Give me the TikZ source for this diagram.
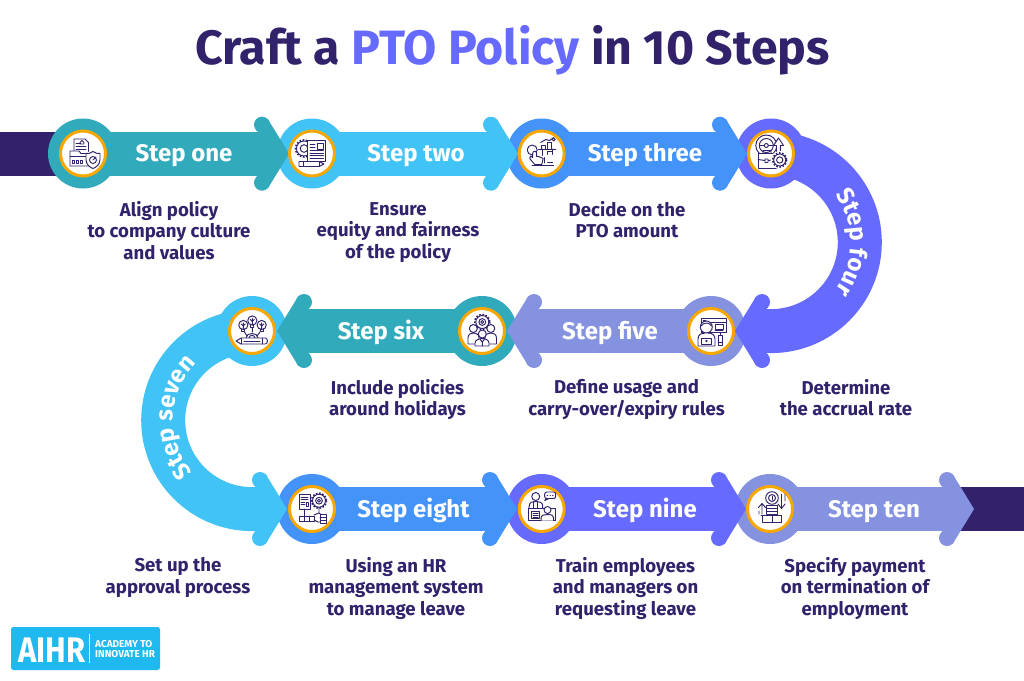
\documentclass[tikz,border=0pt]{standalone}
\usepackage{fontspec}
\setmainfont{Fira Sans}
\usetikzlibrary{decorations.text}
\definecolor{dark}{HTML}{32226B}
\definecolor{teal1}{HTML}{31AABB}
\definecolor{sky1}{HTML}{42C3F5}
\definecolor{blue1}{HTML}{4393F9}
\definecolor{purp1}{HTML}{676AFE}
\definecolor{peri1}{HTML}{8592DF}
\definecolor{ring1}{HTML}{F8A700}
\definecolor{logo1}{HTML}{1FB9F0}
\newcommand{\stepfont}{\fontsize{24}{28}\selectfont\bfseries}
\newcommand{\labfont}{\fontsize{18.6}{21.7}\selectfont\bfseries}
\newcommand{\fl}{\rule{0pt}{14pt}}
\tikzset{
  x=1pt,y=1pt,
  outercirc/.style={circle,minimum size=70pt,inner sep=0pt,fill=#1},
  ringcirc/.style={circle,minimum size=45pt,inner sep=0pt,fill=white,draw=ring1,line width=3pt},
  steplabel/.style={text=white,font=\stepfont,inner sep=0pt,anchor=base},
  desc/.style={text=dark,font=\labfont,align=center,anchor=north,inner sep=0pt},
  ic/.style={draw=dark,line width=0.95pt,line join=round,line cap=round},
  iconscope/.style={shift={(#1)},yscale=-1},
  curved/.style={decorate,decoration={text along path,text align=center,text={#1}}}
}
% head: tip at (#2), rotated #3, colour #1
\newcommand{\headshape}[3]{%
  \fill[#1,shift={(#2)},rotate=#3]
    (0,0) -- (-21.1,34.5) -- (-32.9,23.5) -- (-31,22) -- (-31,-22) -- (-32.9,-23.5) -- (-21.1,-34.5) -- cycle;
  \fill[#1,shift={(#2)},rotate=#3] (-27,29) circle (8) (-27,-29) circle (8);}
\newcommand{\gearic}[3]{%
  \draw[draw=dark,line width=1.6pt,dash pattern=on 1.6pt off 1.6pt] (#1,#2) circle (#3);
  \draw[ic] (#1,#2) circle ({#3-1}) (#1,#2) circle ({#3*0.45});}
\begin{document}
\begin{tikzpicture}
\useasboundingbox (0,0) rectangle (1024,-680);
\fill[white] (0,0) rectangle (1024,-680);
% title
\node[name=title,anchor=base,inner sep=0pt,text=dark,font=\fontsize{48.2}{54}\selectfont\bfseries] at (512.5,-64.5) {Craft a \textcolor{purp1}{PTO Policy} in 10 Steps};
% tail bars
\fill[dark] (0,-132) rectangle (70,-175.5);
\fill[dark] (950,-487) rectangle (1024,-531);
% tips
\coordinate (t1) at (289,-153.7);
\coordinate (t2) at (518,-153.7);
\coordinate (t3) at (747,-153.7);
\coordinate (t4) at (735,-331);
\coordinate (t5) at (507,-331);
\coordinate (t6) at (277,-331);
\coordinate (t7) at (287,-509);
\coordinate (t8) at (517,-509);
\coordinate (t9) at (746,-509);
\coordinate (t10) at (974,-509);
% step 10
\node[outercirc=peri1] (o10) at (770,-509) {};
\fill[peri1] (770,-487) rectangle (945,-531);
\headshape{peri1}{t10}{0}
% step 9
\node[outercirc=purp1] (o9) at (541.7,-509) {};
\fill[purp1] (541.7,-487) rectangle (716,-531);
\headshape{purp1}{t9}{0}
% step 8
\node[outercirc=blue1] (o8) at (312,-509) {};
\fill[blue1] (312,-487) rectangle (487,-531);
\headshape{blue1}{t8}{0}
% step 7
\node[outercirc=sky1] (o7) at (252,-331) {};
\draw[sky1,line width=44pt] (252,-331.5) arc[start angle=90,end angle=270,radius=88.8] -- (262,-509.1);
\headshape{sky1}{t7}{0}
% step 6
\node[outercirc=teal1] (o6) at (482,-331) {};
\fill[teal1] (482,-309) rectangle (307,-353);
\headshape{teal1}{t6}{180}
% step 5
\node[outercirc=peri1] (o5) at (711,-331) {};
\fill[peri1] (711,-309) rectangle (536,-353);
\headshape{peri1}{t5}{180}
% step 4
\node[outercirc=purp1] (o4) at (771,-153.5) {};
\draw[purp1,line width=44pt] (771,-153.5) arc[start angle=90,end angle=-90,radius=88.8] -- (760,-331.1);
\headshape{purp1}{t4}{180}
% step 3
\node[outercirc=blue1] (o3) at (541.7,-153.5) {};
\fill[blue1] (541.7,-131.7) rectangle (717,-175.7);
\headshape{blue1}{t3}{0}
% step 2
\node[outercirc=sky1] (o2) at (312,-153.5) {};
\fill[sky1] (312,-131.7) rectangle (488,-175.7);
\headshape{sky1}{t2}{0}
% step 1
\node[outercirc=teal1] (o1) at (83,-153.5) {};
\fill[teal1] (83,-131.7) rectangle (259,-175.7);
\headshape{teal1}{t1}{0}
% rings
\foreach \n in {1,...,10} {\node[ringcirc] (r\n) at (o\n) {};}
% step labels
\node[steplabel] (l1) at (184,-161.7) {Step one};
\node[steplabel] (l2) at (416,-161.7) {Step two};
\node[steplabel] (l3) at (645,-161.7) {Step three};
\node[steplabel] (l5) at (610,-339) {Step five};
\node[steplabel] (l6) at (381,-339) {Step six};
\node[steplabel] (l8) at (413.5,-517) {Step eight};
\node[steplabel] (l9) at (645,-517) {Step nine};
\node[steplabel] (l10) at (874,-517) {Step ten};
\path[curved={|\stepfont\color{white}|Step four}] (771,-162.3) arc[start angle=90,end angle=-90,radius=80];
\path[curved={|\stepfont\color{white}|Step seven}] (249.2,-499) arc[start angle=268,end angle=88,radius=79];
% descriptions
\node[desc] (d1) at (169,-201) {\fl Align policy\\to company culture\\and values};
\node[desc] (d2) at (398,-201) {\fl Ensure\\equity and fairness\\of the policy};
\node[desc] (d3) at (627,-201) {\fl Decide on the\\PTO amount};
\node[desc] (d4) at (846,-379) {\fl Determine\\the accrual rate};
\node[desc] (d5) at (626.5,-379) {\fl Define usage and\\carry-over/expiry rules};
\node[desc] (d6) at (397.5,-379) {\fl Include policies\\around holidays};
\node[desc] (d7) at (178,-557) {\fl Set up the\\approval process};
\node[desc] (d8) at (396,-557) {\fl Using an HR\\management system\\to manage leave};
\node[desc] (d9) at (625.5,-557) {\fl Train employees\\and managers on\\requesting leave};
\node[desc] (d10) at (855,-557) {\fl Specify payment\\on termination of\\employment};
% icon 1
\begin{scope}[iconscope=r1]
\draw[ic] (-9,-2) -- (-9,-14.5) -- (2,-14.5) -- (5.5,-11) -- (5.5,-2);
\draw[ic] (-7,-10) -- (-2,-10) (-7,-7) -- (3,-7) (-7,-4.5) -- (3,-4.5);
\draw[ic] (-1,-13) -- (1,-11) -- (1,-9.5) -- (-3,-9.5) -- (-3,-11) -- cycle;
\draw[ic,fill=white] (-13,-2.5) -- (-4,-2.5) -- (-2,0) -- (8,0) -- (8,12.5) -- (-13,12.5) -- cycle;
\draw[ic] (-13,3) -- (8,3);
\draw[ic] (-10.5,7) rectangle (-8.5,9.5) (-6.5,7) rectangle (-4.5,9.5) (-2.5,7) rectangle (-0.5,9.5);
\draw[ic,fill=white] (10,-2) .. controls (12,0) and (15,0) .. (17,0) -- (17,6) .. controls (17,11) and (13,14) .. (10,15) .. controls (7,14) and (3,11) .. (3,6) -- (3,0) .. controls (5,0) and (8,0) .. (10,-2);
\draw[ic] (10,6.5) circle (3.5) (10,6.5) -- (13,3.5);
\end{scope}
% icon 2
\begin{scope}[iconscope=r2]
\gearic{-8}{-5}{8.5}
\draw[ic,fill=white] (-4.7,-12.8) rectangle (13.7,7.5);
\draw[ic] (5.5,-10.5) rectangle (11.5,-4.5);
\draw[ic] (-2,-9) -- (3,-9) (-2,-6.5) -- (3,-6.5) (-2,-3) -- (11.5,-3) (-2,-0.5) -- (11.5,-0.5) (-2,2) -- (11.5,2) (-2,4.5) -- (11.5,4.5);
\draw[ic,fill=white] (-13,8) -- (7,8) -- (12,10.5) -- (7,13) -- (-13,13) -- cycle;
\draw[ic] (-9,8) -- (-9,13) (7,8) -- (7,13);
\end{scope}
% icon 3
\begin{scope}[iconscope=r3]
\draw[ic] (-3,-4.5) -- (14,-4.5) (0,-4.5) -- (0,-8.5) -- (4,-8.5) -- (4,-4.5) (6,-4.5) -- (6,-11) -- (10,-11) -- (10,-4.5);
\draw[ic] (-1,-11) -- (4,-14) -- (8,-13) -- (12,-16) (12,-14) circle (1.5);
\draw[ic] (1,-4.5) -- (1,2) (11,-4.5) -- (11,1) (6,1) -- (6,-2) -- (11,-2);
\draw[ic] (-9.5,-3.5) circle (5);
\draw[ic,fill=white] (-9,0) -- (-9,4) -- (-11,2.5) -- (-12,5) -- (-7,11) -- (0,11) -- (1.5,5) -- (-3,3) -- (-5,3) -- (-5,0) .. controls (-5,-3) and (-9,-3) .. (-9,0);
\draw[ic] (-9.5,11.5) -- (12,11.5);
\draw[ic] (3,4) -- (3,9.5) (6,9) -- (11,9);
\end{scope}
% icon 4
\begin{scope}[iconscope=r4]
\draw[ic] (-4.7,-8) circle (10.5) (-4.7,-8) circle (7);
\draw[ic] (-4.7,-8) circle (2) (-11,-8) -- (-7,-8) (1.5,-8) -- (-2.5,-8);
\draw[ic,fill=white] (-13,0) rectangle (5.5,15);
\draw[ic] (-8,0) -- (-8,-3) -- (0,-3) -- (0,0) (-13,6) -- (-6,7) (-3,7) -- (5.5,6) (-6,5.5) rectangle (-3,9);
\draw[ic,fill=white] (9.3,1) -- (9.3,-8) -- (12.5,-8) -- (7.5,-15.5) -- (2.5,-8) -- (5.5,-8) -- (5.5,1) -- cycle;
\fill[white] (8.7,6.5) circle (9);
\gearic{8.7}{6.5}{7}
\end{scope}
% icon 5
\begin{scope}[iconscope=r5]
\draw[ic] (-10,-12.5) rectangle (15,1.5) (-10,-9) -- (15,-9);
\draw[ic] (-8,-11) -- (-5,-11);
\draw[ic] (4,-6.5) rectangle (12,-2) (4,-0.5) -- (12,-0.5);
\draw[ic,fill=white] (-4.7,-4) circle (6);
\draw[ic] (-10,-5) .. controls (-7,-9) and (-2,-9) .. (0.5,-5);
\draw[ic,fill=white] (-13,15) -- (-13,8) .. controls (-13,3) and (-9,2) .. (-6,2) -- (-3,2) .. controls (1,2) and (4,4) .. (4,8) -- (4,15) -- cycle;
\draw[ic,fill=white] (-9.5,7) rectangle (0.5,13.5);
\draw[ic] (-4.5,10) circle (0.8);
\draw[ic,fill=white] (7,4) rectangle (11.5,14) (9.2,4) -- (9.2,1.5) (7,11) -- (11.5,11);
\end{scope}
% icon 6
\begin{scope}[iconscope=r6]
\gearic{0.3}{-9}{7.5}
\draw[ic] (0.3,-9) circle (1.5);
\draw[ic,fill=white] (-8.7,-2.5) circle (4) (8.8,-2.5) circle (4);
\draw[ic,fill=white] (-14,13) -- (-14,7) .. controls (-14,3) and (-11,2) .. (-8.7,2) .. controls (-6,2) and (-3,3) .. (-3,7) -- (-3,13) -- cycle;
\draw[ic,fill=white] (14.5,13) -- (14.5,7) .. controls (14.5,3) and (11,2) .. (8.8,2) .. controls (6,2) and (3,3) .. (3,7) -- (3,13) -- cycle;
\draw[ic,fill=white] (0.3,3) circle (4);
\draw[ic,fill=white] (-7,15) -- (-7,12) .. controls (-7,9) and (-3,7.5) .. (0.3,7.5) .. controls (3,7.5) and (7,9) .. (7,12) -- (7,15) -- cycle;
\draw[ic] (-2,8) -- (0.3,11) -- (2.5,8) (0.3,11) -- (0.3,15);
\end{scope}
% icon 7
\begin{scope}[iconscope=r7]
\foreach \bx/\by in {-8.7/-6,0.3/-10.5,9.7/-6} {
  \draw[ic] (\bx,\by) circle (4.6);
  \draw[ic] (\bx-1.5,\by+4.2) -- (\bx-1.5,\by+6.5) -- (\bx+1.5,\by+6.5) -- (\bx+1.5,\by+4.2);
  \draw[ic] (\bx,\by-2) -- (\bx,\by+4) (\bx-2,\by-1) -- (\bx,\by+1) -- (\bx+2,\by-1);
}
\draw[ic] (-7.5,1) -- (-5,5) (8,1) -- (5,5) (0.3,-3.5) -- (0.3,1);
\draw[ic] (-6,7) .. controls (-6,1) and (6,1) .. (6,7);
\draw[ic] (-3,7) .. controls (-3,3.5) and (3,3.5) .. (3,7);
\draw[ic,fill=white] (-16,10) -- (-11,7) -- (13.5,7) .. controls (16,7) and (16,13) .. (13.5,13) -- (-11,13) -- cycle;
\draw[ic] (-11,7) -- (-11,13) (10,7) -- (10,13) (-8,10) -- (8,10);
\end{scope}
% icon 8
\begin{scope}[iconscope=r8]
\draw[ic] (-13,-15) rectangle (-2,0);
\draw[ic] (-11,-12) -- (-4,-12) (-11,-9.5) -- (-4,-9.5) (-11,-7) -- (-7,-7) (-11,-4.5) -- (-7,-4.5) (-6,-7) rectangle (-4,-3);
\gearic{7}{-8.3}{7.5}
\draw[ic] (7,-8.3) circle (1.5) (7,-1) -- (7,4) (-7.5,0) -- (-7.5,7);
\draw[ic] (-13,7) rectangle (2,12.5) (-8,7) -- (-8,12.5) (-3,7) -- (-3,12.5);
\draw[ic,fill=white] (2,6) -- (7,4) -- (11,7) -- (8,9) (2,11) -- (6,13) -- (9,13);
\draw[ic,fill=white] (8,5) rectangle (14.5,8) (8,8) rectangle (14.5,11) (8,11) rectangle (14.5,14);
\end{scope}
% icon 9
\begin{scope}[iconscope=r9]
\draw[ic] (-6,-12.5) circle (4);
\draw[ic] (-12.5,-1) -- (-12.5,-3) .. controls (-12.5,-7) and (-9,-7.5) .. (-6,-7.5) .. controls (-3,-7.5) and (1,-7) .. (1,-3) -- (1,-1);
\draw[ic] (-8,-7.5) -- (-8,-1) (-4,-7.5) -- (-4,-1);
\draw[ic] (-13,-1) rectangle (14,11.5);
\draw[ic] (-10,2) rectangle (-2,9.5) (-8.5,4) -- (-3.5,4) (-8.5,6) -- (-3.5,6) (-8.5,8) -- (-3.5,8);
\draw[ic,fill=white] (5.8,1) circle (3.5);
\draw[ic,fill=white] (-0.5,11.5) -- (-0.5,8.5) .. controls (-0.5,6) and (3,5.5) .. (5.8,5.5) .. controls (9,5.5) and (12,6) .. (12,8.5) -- (12,11.5);
\draw[ic,rounded corners=2pt] (3,-17) rectangle (14,-10.5);
\draw[ic] (4.5,-10.5) -- (3,-8.5) -- (7,-10.5);
\draw[ic] (5.5,-13.7) -- (6,-13.7) (8.3,-13.7) -- (8.7,-13.7) (11,-13.7) -- (11.5,-13.7);
\end{scope}
% icon 10
\begin{scope}[iconscope=r10]
\draw[ic] (2,-11) circle (6.3) (2,-11) circle (3.5);
\draw[ic] (2,-13) -- (2,-9);
\draw[ic] (-3.5,-4) rectangle (7.5,-1) (-3.5,-1) rectangle (7.5,2) (-3.5,2) rectangle (7.5,5);
\draw[ic,fill=white] (-7.5,6) rectangle (2,13) (2,6) rectangle (11.5,13);
\draw[ic] (-9,6) -- (11.5,6);
\draw[ic] (-8,5) -- (-8,-5) (-11.5,-1.5) -- (-8,-5.5) -- (-4.5,-1.5) (-11,2) -- (-11,5);
\draw[ic] (11.5,-15) -- (11.5,-1) (8,-5) -- (11.5,-0.5) -- (15,-5) (15,-15) -- (15,-8) ;
\end{scope}
% logo
\fill[logo1,rounded corners=2.5pt] (11,-627) rectangle (160,-670);
\node[name=aihr,anchor=base west,inner sep=0pt,text=white,font=\fontsize{35.5}{36}\selectfont\bfseries] at (18.5,-662) {\scalebox{0.87}[1]{AIHR}};
\fill[white] (89,-633.5) rectangle (90,-663);
\node[name=acad,anchor=base west,inner sep=0pt,text=white,font=\fontsize{10}{10}\selectfont\bfseries] at (95,-647.5) {ACADEMY TO};
\node[name=inno,anchor=base west,inner sep=0pt,text=white,font=\fontsize{10}{10}\selectfont\bfseries] at (95,-657) {INNOVATE HR};
\end{tikzpicture}
\end{document}
